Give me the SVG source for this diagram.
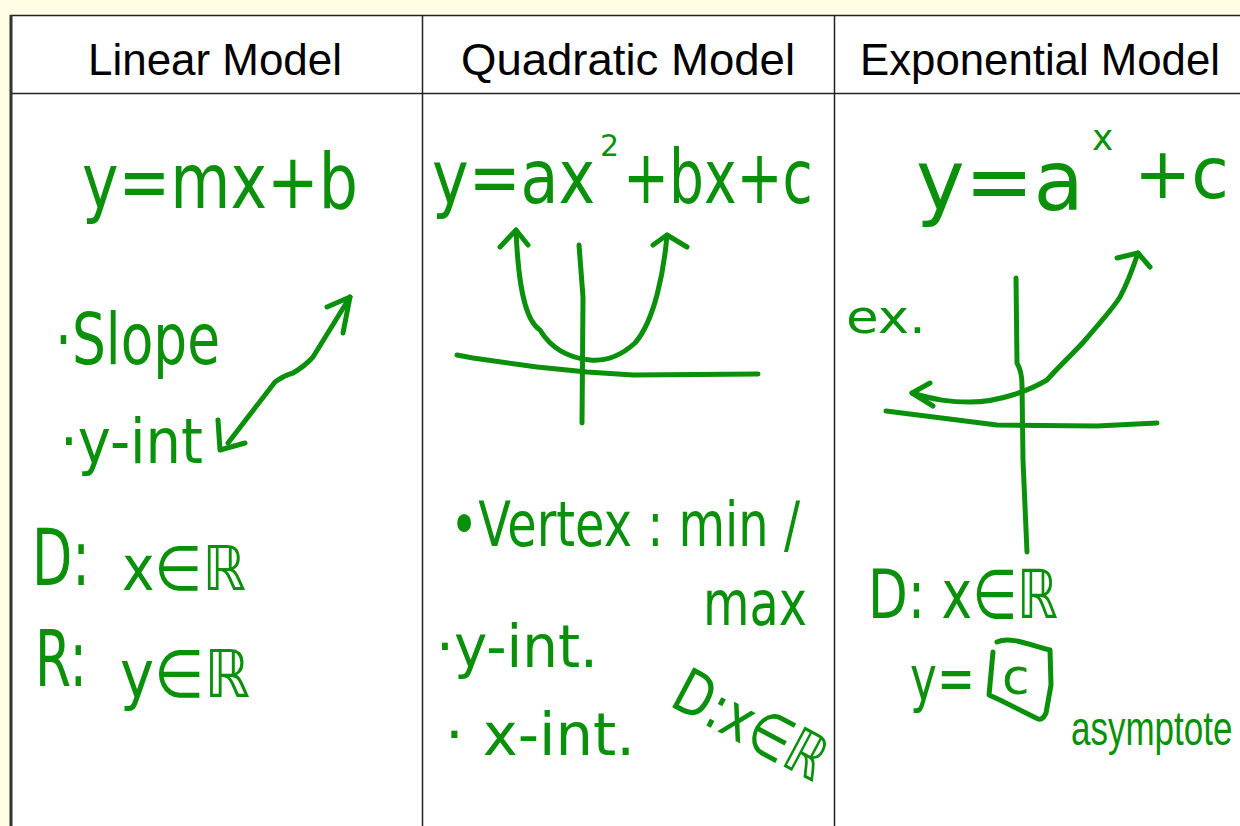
<svg xmlns="http://www.w3.org/2000/svg" width="1240" height="826" viewBox="0 0 1240 826">
<style>
.hdr{font-family:"Liberation Sans",Arial,sans-serif;font-size:45px;fill:#000}
.hw{font-family:"DejaVu Sans","Liberation Sans",sans-serif;fill:#0a900a}
.hw2{font-family:"Liberation Sans",Arial,sans-serif;fill:#0a900a}
.ink{fill:none;stroke:#0a900a;stroke-width:5;stroke-linecap:round;stroke-linejoin:round}
.grid{stroke:#222;stroke-width:1.5;fill:none}
</style>
<rect x="0" y="0" width="1240" height="826" fill="#fffde3"/>
<g id="table">
<rect x="10" y="15" width="1240" height="830" fill="#fff"/>
<line class="grid" x1="10" y1="15.5" x2="1240" y2="15.5"/>
<line class="grid" x1="10" y1="93.5" x2="1240" y2="93.5"/>
<line x1="11" y1="15" x2="11" y2="826" stroke="#333" stroke-width="3"/>
<line class="grid" x1="422.5" y1="15" x2="422.5" y2="826"/>
<line class="grid" x1="834.5" y1="15" x2="834.5" y2="826"/>
<text class="hdr" x="88" y="75" textLength="254" lengthAdjust="spacingAndGlyphs">Linear Model</text>
<text class="hdr" x="461" y="75" textLength="334" lengthAdjust="spacingAndGlyphs">Quadratic Model</text>
<text class="hdr" x="860" y="75" textLength="360" lengthAdjust="spacingAndGlyphs">Exponential Model</text>
</g>
<g id="linear">
<text class="hw" x="82" y="208" font-size="76" textLength="276" lengthAdjust="spacingAndGlyphs">y=mx+b</text>
<text class="hw" x="55" y="364" font-size="72" textLength="165" lengthAdjust="spacingAndGlyphs">·Slope</text>
<text class="hw" x="60" y="463" font-size="62" textLength="143" lengthAdjust="spacingAndGlyphs">·y-int</text>
<text class="hw" x="32" y="585" font-size="78" textLength="58" lengthAdjust="spacingAndGlyphs">D:</text>
<text class="hw" x="122" y="590" font-size="62" textLength="124" lengthAdjust="spacingAndGlyphs">x∈ℝ</text>
<text class="hw" x="35" y="686" font-size="78" textLength="52" lengthAdjust="spacingAndGlyphs">R:</text>
<text class="hw" x="120" y="697" font-size="66" textLength="130" lengthAdjust="spacingAndGlyphs">y∈ℝ</text>
</g>
<g id="quadratic">
<text class="hw" x="0" y="0" font-size="62" transform="translate(432,203) scale(1,1.2)">y=ax</text>
<text class="hw" x="600" y="156" font-size="30">2</text>
<text class="hw" x="0" y="0" font-size="55" transform="translate(623,203) scale(1,1.35)">+bx+c</text>
<text class="hw" x="450" y="546" font-size="62" textLength="350" lengthAdjust="spacingAndGlyphs">•Vertex : min /</text>
<text class="hw" x="703" y="625" font-size="62" textLength="104" lengthAdjust="spacingAndGlyphs">max</text>
<text class="hw" x="436" y="667" font-size="58" textLength="162" lengthAdjust="spacingAndGlyphs">·y-int.</text>
<text class="hw" x="445" y="755" font-size="58" textLength="190" lengthAdjust="spacingAndGlyphs">· x-int.</text>
<text class="hw" x="668" y="705" font-size="62" textLength="165" lengthAdjust="spacingAndGlyphs" transform="rotate(28 668 705)">D:x∈ℝ</text>
</g>
<g id="exponential">
<text class="hw" x="916" y="210" font-size="84" textLength="168" lengthAdjust="spacingAndGlyphs">y=a</text>
<text class="hw" x="1092" y="150" font-size="36">x</text>
<text class="hw" x="1134" y="198" font-size="72" textLength="95" lengthAdjust="spacingAndGlyphs">+c</text>
<text class="hw" x="846" y="333" font-size="46" textLength="80" lengthAdjust="spacingAndGlyphs">ex.</text>
<text class="hw" x="868" y="618" font-size="68" textLength="190" lengthAdjust="spacingAndGlyphs">D: x∈ℝ</text>
<text class="hw" x="910" y="700" font-size="62" textLength="65" lengthAdjust="spacingAndGlyphs">y=</text>
<text class="hw" x="1002" y="694" font-size="50">c</text>
<path class="ink" d="M997,642 C1010,636 1030,645 1050,650 L1051,685 L1046,713 Q1042,722 1036,718 L1000,700 L989,695 L993,652"/>
<text class="hw2" x="0" y="0" font-size="35" transform="translate(1071,745) scale(1,1.35)">asymptote</text>
</g>
<g id="connectors">
<path class="ink" d="M228,443 L275,382 Q285,375 293,373 Q305,366 313,357 L350,297"/>
<path class="ink" d="M327,307 L350,297 L343,333"/>
<path class="ink" d="M218,420 L220,450 L245,443"/>
<path class="ink" d="M457,355 L473,358 L537,367 L587,372 L633,375 L758,374"/>
<path class="ink" d="M579,245 L583,297 L582,423"/>
<path class="ink" d="M516,230 C518,280 524,320 540,330 C552,350 570,358 590,360 C610,362 625,352 635,343 C655,320 664,270 667,235"/>
<path class="ink" d="M500,247 L516,230 L528,245"/>
<path class="ink" d="M653,245 L667,235 L687,247"/>
<path class="ink" d="M1016,278 L1017,363 Q1022,372 1022,385 L1023,460 L1027,552"/>
<path class="ink" d="M886,411 L997,425 L1097,426 L1157,423"/>
<path class="ink" d="M912,393 C935,400 950,402 970,402 C1000,402 1030,390 1047,380 C1060,365 1075,352 1087,338 C1100,322 1112,310 1120,297 C1128,282 1133,268 1138,253"/>
<path class="ink" d="M930,383 L912,393 L933,406"/>
<path class="ink" d="M1117,258 L1138,253 L1150,267"/>
</g>
</svg>
